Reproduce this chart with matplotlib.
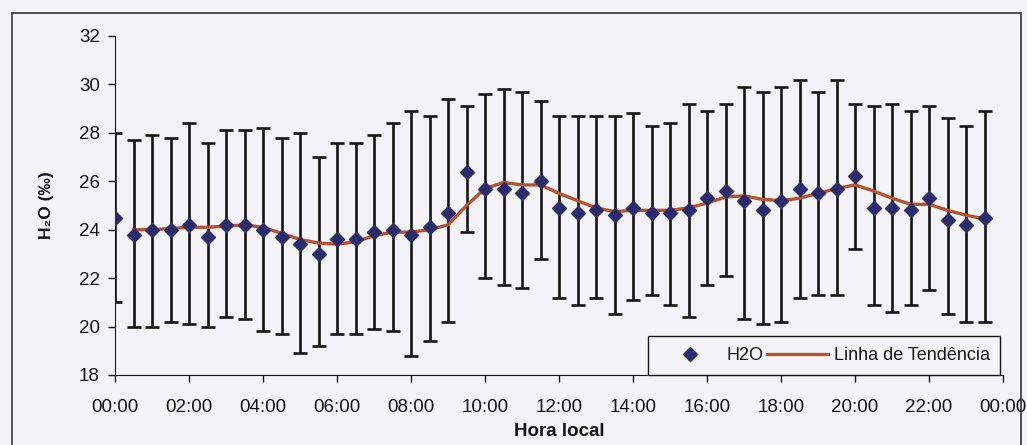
import matplotlib
matplotlib.use('Agg')
import matplotlib.pyplot as plt
from matplotlib.lines import Line2D
from matplotlib.patches import Rectangle
from numpy import arange, asarray

plt.rcParams['font.family'] = ['Liberation Sans', 'DejaVu Sans']

# half-hourly means and error bar limits (H2O, per mil)
hours = arange(0, 24, 0.5)
h2o = [24.5, 23.8, 24.0, 24.0, 24.2, 23.7, 24.2, 24.2, 24.0, 23.7, 23.4, 23.0,
       23.6, 23.6, 23.9, 24.0, 23.8, 24.1, 24.7, 26.4, 25.7, 25.7, 25.5, 26.0,
       24.9, 24.7, 24.8, 24.6, 24.9, 24.7, 24.7, 24.8, 25.3, 25.6, 25.2, 24.8,
       25.2, 25.7, 25.5, 25.7, 26.2, 24.9, 24.9, 24.8, 25.3, 24.4, 24.2, 24.5]
upper = [28.0, 27.7, 27.9, 27.8, 28.4, 27.6, 28.1, 28.1, 28.2, 27.8, 28.0, 27.0,
         27.6, 27.6, 27.9, 28.4, 28.9, 28.7, 29.4, 29.1, 29.6, 29.8, 29.7, 29.3,
         28.7, 28.7, 28.7, 28.7, 28.8, 28.3, 28.4, 29.2, 28.9, 29.2, 29.9, 29.7,
         29.9, 30.2, 29.7, 30.2, 29.2, 29.1, 29.2, 28.9, 29.1, 28.6, 28.3, 28.9]
lower = [21.0, 20.0, 20.0, 20.2, 20.1, 20.0, 20.4, 20.3, 19.8, 19.7, 18.9, 19.2,
         19.7, 19.7, 19.9, 19.8, 18.8, 19.4, 20.2, 23.9, 22.0, 21.7, 21.6, 22.8,
         21.2, 20.9, 21.2, 20.5, 21.1, 21.3, 20.9, 20.4, 21.7, 22.1, 20.3, 20.1,
         20.2, 21.2, 21.3, 21.3, 23.2, 20.9, 20.6, 20.9, 21.5, 20.5, 20.2, 20.2]

# trend line (starts at 00:30)
trend_hours = arange(0.5, 24, 0.5)
trend = [24.0, 24.0, 24.05, 24.1, 24.1, 24.15, 24.2, 24.1, 23.85, 23.6, 23.45,
         23.4, 23.5, 23.75, 23.9, 23.9, 24.0, 24.2, 25.0, 25.7, 25.95, 25.85,
         25.85, 25.5, 25.2, 24.9, 24.75, 24.8, 24.8, 24.8, 24.9, 25.1, 25.35,
         25.4, 25.25, 25.2, 25.3, 25.5, 25.7, 25.85, 25.6, 25.3, 25.05, 25.05,
         24.8, 24.6, 24.45]

tick_hours = arange(0, 25, 2)
tick_labels = ['{:02d}:00'.format(h % 24) for h in tick_hours]

bg = '#f4f4f8'
ink = '#151515'
marker_color = '#2b2a6b'
trend_color = '#b5532f'

fig = plt.figure(figsize=(10.27, 4.45), dpi=100, facecolor=bg)
fig.patches.append(Rectangle((12 / 1027, -0.01), 1009 / 1027, 1 - 13 / 445 + 0.01,
                             transform=fig.transFigure, fill=False,
                             edgecolor='#333333', linewidth=1.2))
ax = fig.add_axes([115 / 1027, 1 - 375 / 445, 888 / 1027, 339 / 445])
ax.set_facecolor(bg)

h2o_arr = asarray(h2o)
yerr = [h2o_arr - asarray(lower), asarray(upper) - h2o_arr]
ax.errorbar(hours, h2o, yerr=yerr, fmt='none', ecolor=ink, elinewidth=1.9,
            capsize=5, capthick=1.9, zorder=2)
ax.plot(trend_hours, trend, color=trend_color, linewidth=2.4, zorder=3)
ax.plot(hours, h2o, linestyle='none', marker='D', markersize=7.5,
        color=marker_color, zorder=4)

ax.set_xlim(0, 24)
ax.set_ylim(18, 32)
ax.set_xticks(tick_hours)
ax.set_xticklabels(tick_labels)
ax.set_yticks(arange(18, 33, 2))
for side in ['top', 'right']:
    ax.spines[side].set_visible(False)
for side in ['left', 'bottom']:
    ax.spines[side].set_color(ink)
ax.tick_params(axis='both', labelsize=13.5, colors=ink, length=5, width=1)
ax.tick_params(axis='x', pad=12)
ax.tick_params(axis='y', pad=6)

ax.set_xlabel('Hora local', fontsize=13.5, fontweight='bold', labelpad=5, color=ink)
ax.set_ylabel('H\u2082O (\u2030)', fontsize=12.5, fontweight='bold', labelpad=18, color=ink)

handles = [Line2D([], [], linestyle='none', marker='D', markersize=7.5, color=marker_color),
           Line2D([], [], color=trend_color, linewidth=2.4)]
leg = ax.legend(handles, ['H2O', 'Linha de Tendência'], ncol=2, loc='lower right',
                bbox_to_anchor=(0.997, 0.0), fontsize=13, frameon=True, fancybox=False,
                handlelength=3.4, columnspacing=0.2, handletextpad=0.3,
                borderpad=0.6, borderaxespad=0)
leg.get_frame().set_edgecolor(ink)
leg.get_frame().set_facecolor(bg)
leg.get_frame().set_alpha(1)
leg.get_frame().set_linewidth(1)
for text in leg.get_texts():
    text.set_color(ink)

fig.savefig('out.png', dpi=100, facecolor=bg)
